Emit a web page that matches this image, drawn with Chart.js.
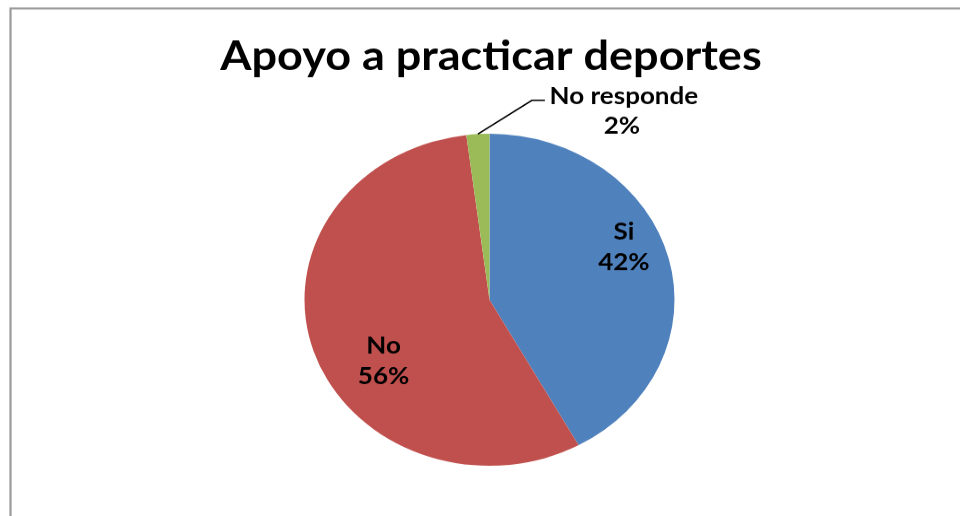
<!DOCTYPE html>
<html>
<head>
<meta charset="utf-8">
<script src="https://cdn.jsdelivr.net/npm/chart.js@4"></script>
<style>
  html, body { margin: 0; padding: 0; background: #fff; overflow: hidden; }
  #wrap { width: 960px; height: 575px; transform: scale(1, 0.8974); transform-origin: 0 0; }
</style>
</head>
<body>
<div id="wrap"><canvas id="chart" width="960" height="575" style="width:960px;height:575px"></canvas></div>
<script>
// Data
const chartTitle = 'Apoyo a practicar deportes';
const categories = ['Si', 'No', 'No responde'];
const percentages = [42, 56, 2];
const sliceColors = ['#4F81BD', '#C0504D', '#9BBB59'];

const labelFont = 'bold 26px Lato';

// Gray frame around the chart
const framePlugin = {
  id: 'frame',
  beforeDraw(chart) {
    const ctx = chart.ctx;
    ctx.save();
    ctx.strokeStyle = '#9a9a9a';
    ctx.lineWidth = 2.2;
    ctx.strokeRect(10.5, 9.4, 1200, 800);
    ctx.restore();
  }
};

// Title
const titlePlugin = {
  id: 'bigTitle',
  afterDraw(chart) {
    const ctx = chart.ctx;
    ctx.save();
    ctx.fillStyle = '#000';
    ctx.font = 'bold 45px Lato';
    ctx.textAlign = 'center';
    ctx.textBaseline = 'alphabetic';
    ctx.fillText(chartTitle, 491, 78);
    ctx.restore();
  }
};

// Category + percent labels on the slices
const sliceLabels = {
  id: 'sliceLabels',
  afterDatasetsDraw(chart) {
    const ctx = chart.ctx;
    const meta = chart.getDatasetMeta(0);
    const offsets = [{ dx: 0, dy: -24 }, { dx: 26, dy: 26 }];
    ctx.save();
    ctx.fillStyle = '#000';
    ctx.font = labelFont;
    ctx.textAlign = 'center';
    ctx.textBaseline = 'middle';
    meta.data.forEach((arc, i) => {
      const p = arc.getProps(['x', 'y', 'startAngle', 'endAngle', 'outerRadius'], true);
      const mid = (p.startAngle + p.endAngle) / 2;
      const text = percentages[i] + '%';
      if (i < 2) {
        const r = p.outerRadius * 0.75;
        const cx = p.x + Math.cos(mid) * r + offsets[i].dx;
        const cy = p.y + Math.sin(mid) * r + offsets[i].dy;
        ctx.fillText(categories[i], cx, cy - 17);
        ctx.fillText(text, cx, cy + 17);
      } else {
        // small slice: label outside with a leader line
        const ex = p.x + Math.cos(mid) * p.outerRadius;
        const ey = p.y + Math.sin(mid) * p.outerRadius;
        const bx = ex + 54, by = ey - 37.6;
        ctx.strokeStyle = '#000';
        ctx.lineWidth = 1.6;
        ctx.beginPath();
        ctx.moveTo(ex, ey);
        ctx.lineTo(bx, by);
        ctx.lineTo(bx + 13, by);
        ctx.stroke();
        ctx.fillText(categories[i], bx + 92, by - 4.6);
        ctx.fillText(text, bx + 90, by + 29);
      }
    });
    ctx.restore();
  }
};

new Chart(document.getElementById('chart'), {
  type: 'pie',
  data: {
    labels: categories,
    datasets: [{
      data: percentages,
      backgroundColor: sliceColors,
      borderWidth: 0
    }]
  },
  options: {
    responsive: false,
    animation: false,
    devicePixelRatio: 1,
    layout: {
      padding: { top: 149, bottom: 56, left: 29, right: 10 }
    },
    plugins: {
      legend: { display: false },
      tooltip: { enabled: false },
      title: { display: false }
    }
  },
  plugins: [framePlugin, sliceLabels, titlePlugin]
});
</script>
</body>
</html>
